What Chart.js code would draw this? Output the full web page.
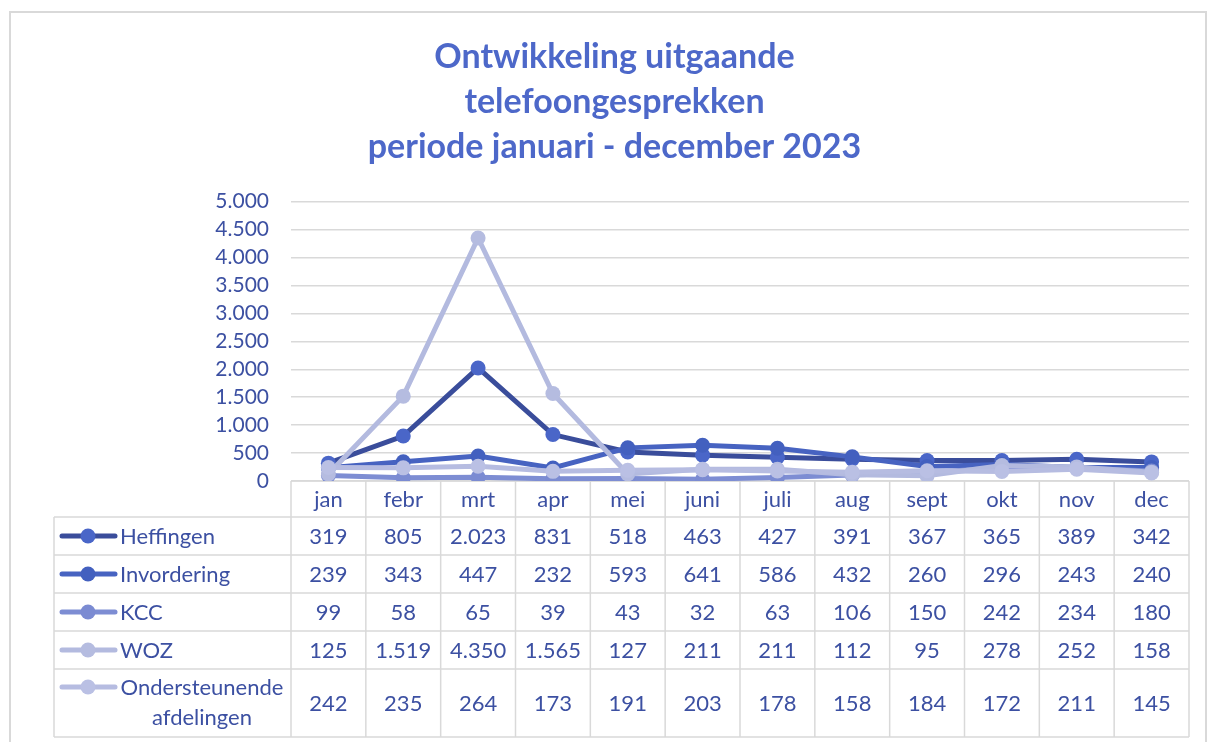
<!DOCTYPE html>
<html lang="nl">
<head>
<meta charset="utf-8">
<title>Ontwikkeling uitgaande telefoongesprekken 2023</title>
<script src="https://cdn.jsdelivr.net/npm/chart.js@4.4.1/dist/chart.umd.min.js"></script>
<style>
  html, body { margin: 0; padding: 0; background: #fff; }
  #wrap { position: relative; width: 1207px; height: 742px; }
</style>
</head>
<body>
<div id="wrap"><canvas id="chart" width="1207" height="742"></canvas></div>
<script>
// gegevens uit de grafiek
const maanden = ["jan", "febr", "mrt", "apr", "mei", "juni", "juli", "aug", "sept", "okt", "nov", "dec"];
const reeksNamen = ["Heffingen", "Invordering", "KCC", "WOZ", ["Ondersteunende", "afdelingen"]];
const heffingen = [319, 805, 2023, 831, 518, 463, 427, 391, 367, 365, 389, 342];
const invordering = [239, 343, 447, 232, 593, 641, 586, 432, 260, 296, 243, 240];
const kcc = [99, 58, 65, 39, 43, 32, 63, 106, 150, 242, 234, 180];
const woz = [125, 1519, 4350, 1565, 127, 211, 211, 112, 95, 278, 252, 158];
const ondersteunend = [242, 235, 264, 173, 191, 203, 178, 158, 184, 172, 211, 145];
const yTicks = [0, 500, 1000, 1500, 2000, 2500, 3000, 3500, 4000, 4500, 5000];

const titelRegels = ["Ontwikkeling uitgaande", "telefoongesprekken", "periode januari - december 2023"];

// kleuren (lijn / marker)
const lijnKleuren = ["#3A4D9B", "#4763C1", "#7D8DD3", "#B3BADF", "#B6BCE1"];
const markerKleuren = ["#4A66C8", "#4360BF", "#7B8BD2", "#B5BCE0", "#BAC0E4"];
const tekstKleur = "#3C50A2";
const rasterKleur = "#D9D9D9";
const FONT = "Lato, 'Open Sans', sans-serif";

// getal met punt als duizendtal-scheiding
function fmt(v) {
  return String(v).replace(/\B(?=(\d{3})+(?!\d))/g, ".");
}

const reeksen = [heffingen, invordering, kcc, woz, ondersteunend];

// tabel onder de grafiek
const tabelPlugin = {
  id: "dataTabel",
  beforeDraw(chart) {
    const ctx = chart.ctx;
    // kader rond de hele grafiek
    ctx.save();
    ctx.strokeStyle = "#D9D9D9";
    ctx.lineWidth = 2;
    ctx.strokeRect(10, 12, 1196, 760);
    ctx.restore();
  },
  beforeDatasetsDraw(chart) {
    const ctx = chart.ctx;
    const x = chart.scales.x;
    const area = chart.chartArea;
    const colW = (area.right - area.left) / maanden.length;
    const legendLeft = 54;
    const kopTop = area.bottom;
    const kopBottom = kopTop + 36;
    const rijHoogtes = [38, 38, 38, 38, 68];
    const rijGrenzen = [kopBottom];
    rijHoogtes.forEach(h => rijGrenzen.push(rijGrenzen[rijGrenzen.length - 1] + h));
    const tabelBottom = rijGrenzen[rijGrenzen.length - 1];

    ctx.save();
    ctx.strokeStyle = rasterKleur;
    ctx.lineWidth = 1.5;
    ctx.beginPath();
    // horizontale lijnen
    ctx.moveTo(area.left, kopTop);
    ctx.lineTo(area.right, kopTop);
    rijGrenzen.forEach(y => {
      ctx.moveTo(legendLeft, y);
      ctx.lineTo(area.right, y);
    });
    // verticale lijnen
    for (let i = 0; i <= maanden.length; i++) {
      const xx = area.left + i * colW;
      ctx.moveTo(xx, kopTop);
      ctx.lineTo(xx, tabelBottom);
    }
    ctx.moveTo(legendLeft, kopBottom);
    ctx.lineTo(legendLeft, tabelBottom);
    ctx.stroke();

    // maandnamen
    ctx.fillStyle = tekstKleur;
    ctx.font = "22px " + FONT;
    ctx.textAlign = "center";
    ctx.textBaseline = "middle";
    maanden.forEach((m, i) => {
      ctx.fillText(m, x.getPixelForValue(i), (kopTop + kopBottom) / 2 + 1);
    });

    // waarden + legenda
    reeksen.forEach((data, r) => {
      const top = rijGrenzen[r];
      const bottom = rijGrenzen[r + 1];
      const mid = (top + bottom) / 2 + 1;
      ctx.fillStyle = tekstKleur;
      ctx.textAlign = "center";
      data.forEach((v, i) => {
        ctx.fillText(fmt(v), x.getPixelForValue(i), mid);
      });

      const naam = reeksNamen[r];
      const regels = Array.isArray(naam) ? naam : [naam];
      const eersteY = regels.length > 1 ? top + 19 : mid;
      // legendasymbool
      ctx.strokeStyle = lijnKleuren[r];
      ctx.lineWidth = 5;
      ctx.lineCap = "round";
      ctx.beginPath();
      ctx.moveTo(62, eersteY - 1);
      ctx.lineTo(115, eersteY - 1);
      ctx.stroke();
      ctx.fillStyle = markerKleuren[r];
      ctx.beginPath();
      ctx.arc(88, eersteY - 1, 7.5, 0, Math.PI * 2);
      ctx.fill();

      ctx.fillStyle = tekstKleur;
      if (regels.length > 1) {
        ctx.textAlign = "center";
        regels.forEach((t, k) => ctx.fillText(t, 202, eersteY + k * 30));
      } else {
        ctx.textAlign = "left";
        ctx.fillText(regels[0], 120, eersteY);
      }
    });
    ctx.restore();
  }
};

const datasets = reeksen.map((data, r) => ({
  label: Array.isArray(reeksNamen[r]) ? reeksNamen[r].join(" ") : reeksNamen[r],
  data: data,
  borderColor: lijnKleuren[r],
  backgroundColor: markerKleuren[r],
  pointBackgroundColor: markerKleuren[r],
  pointBorderWidth: 0,
  pointRadius: 7.5,
  borderWidth: 5,
  tension: 0,
  fill: false,
  order: reeksen.length - r // latere reeksen bovenop, zoals in Excel
}));

new Chart(document.getElementById("chart").getContext("2d"), {
  type: "line",
  data: { labels: maanden, datasets: datasets },
  options: {
    responsive: false,
    animation: false,
    layout: { padding: { left: 40, right: 18, top: 0, bottom: 253 } },
    plugins: {
      legend: { display: false },
      tooltip: { enabled: false },
      title: {
        display: true,
        text: titelRegels,
        color: "#4D68C9",
        font: { family: FONT, size: 34, weight: "bold", lineHeight: 1.32 },
        padding: { top: 35, bottom: 32 }
      }
    },
    scales: {
      x: {
        type: "category",
        offset: true,
        grid: { display: false },
        border: { display: false },
        ticks: { display: false }
      },
      y: {
        min: 0,
        max: 5000,
        afterFit(scale) { scale.width = 251; },
        afterBuildTicks(scale) { scale.ticks = yTicks.map(v => ({ value: v })); },
        grid: { color: rasterKleur, lineWidth: 1.5, drawTicks: false },
        border: { display: false },
        ticks: {
          autoSkip: false,
          padding: 22,
          color: tekstKleur,
          font: { family: FONT, size: 21 },
          callback: v => fmt(v)
        }
      }
    }
  },
  plugins: [tabelPlugin]
});
</script>
</body>
</html>
